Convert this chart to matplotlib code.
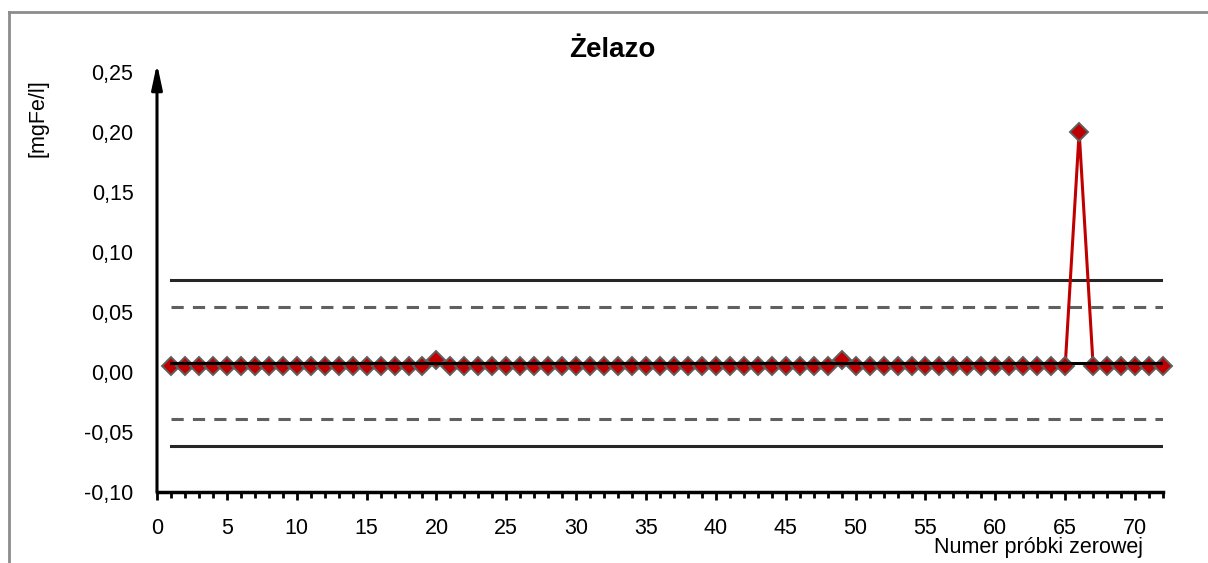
import matplotlib
matplotlib.use("Agg")
import matplotlib.pyplot as plt
from matplotlib.lines import Line2D
from matplotlib.ticker import MultipleLocator, FuncFormatter

plt.rcParams['font.family'] = ['Liberation Sans', 'DejaVu Sans']

# sample numbers and iron results [mgFe/l]
sample_no = list(range(1, 73))
iron = [0.005] * 72
iron[19] = 0.01   # sample 20
iron[48] = 0.01   # sample 49
iron[65] = 0.20   # sample 66

# control chart lines
center_line = 0.0078
upper_warning = 0.054
upper_control = 0.077
lower_warning = -0.039
lower_control = -0.062

fig = plt.figure(figsize=(12.08, 5.63), dpi=100)
ax = fig.add_axes([157 / 1208, 1 - 492 / 563, (1163 - 157) / 1208, (492 - 72) / 563])

# gray frame (left and top only visible)
fig.add_artist(Line2D([8.5 / 1208, 8.5 / 1208], [0, 1 - 12 / 563], color='#8c8c8c', lw=2))
fig.add_artist(Line2D([8.5 / 1208, 1], [1 - 12 / 563, 1 - 12 / 563], color='#8c8c8c', lw=2))

xs = [sample_no[0], sample_no[-1]]
ax.plot(xs, [upper_control] * 2, color='#262626', lw=2.2, zorder=2)
ax.plot(xs, [lower_control] * 2, color='#262626', lw=2.2, zorder=2)
ax.plot(xs, [upper_warning] * 2, color='#606060', lw=2.2, ls=(0, (4, 3)), zorder=2)
ax.plot(xs, [lower_warning] * 2, color='#606060', lw=2.2, ls=(0, (4, 3)), zorder=2)

ax.plot(sample_no, iron, color='#c00000', lw=2.2, marker='D', markersize=9.5,
        markerfacecolor='#c00000', markeredgecolor='#5f5f5f', markeredgewidth=1.4,
        zorder=3, clip_on=False)
ax.plot(xs, [center_line] * 2, color='black', lw=2.2, zorder=4)

ax.set_xlim(0, 72)
ax.set_ylim(-0.10, 0.25)

for s in ['top', 'right', 'left']:
    ax.spines[s].set_visible(False)
ax.spines['bottom'].set_linewidth(2.5)
ax.annotate('', xy=(0, 0.257), xytext=(0, -0.1), xycoords='data',
            arrowprops=dict(arrowstyle='-|>,head_length=1.5,head_width=0.32',
                            color='black', lw=2.2, shrinkA=0, shrinkB=0),
            annotation_clip=False)

ax.xaxis.set_major_locator(MultipleLocator(5))
ax.xaxis.set_minor_locator(MultipleLocator(1))
ax.yaxis.set_major_locator(MultipleLocator(0.05))
ax.yaxis.set_major_formatter(FuncFormatter(lambda v, p: f"{v:.2f}".replace('.', ',').replace('−', '-')))
ax.tick_params(axis='x', which='major', length=6, width=2, pad=13, labelsize=15.5)
ax.tick_params(axis='x', which='minor', length=4, width=2)
ax.tick_params(axis='y', length=0, pad=17, labelsize=15.5)

fig.text(612 / 1208, 1 - 50 / 563, 'Żelazo', ha='center', va='center',
         fontsize=20, fontweight='bold')
fig.text(38 / 1208, 1 - 118 / 563, '[mgFe/l]', rotation=90, ha='center', va='center',
         fontsize=15.5)
fig.text(1039 / 1208, 1 - 548 / 563, 'Numer próbki zerowej', ha='center', va='center',
         fontsize=15.5)

fig.savefig('out.png', dpi=100)
